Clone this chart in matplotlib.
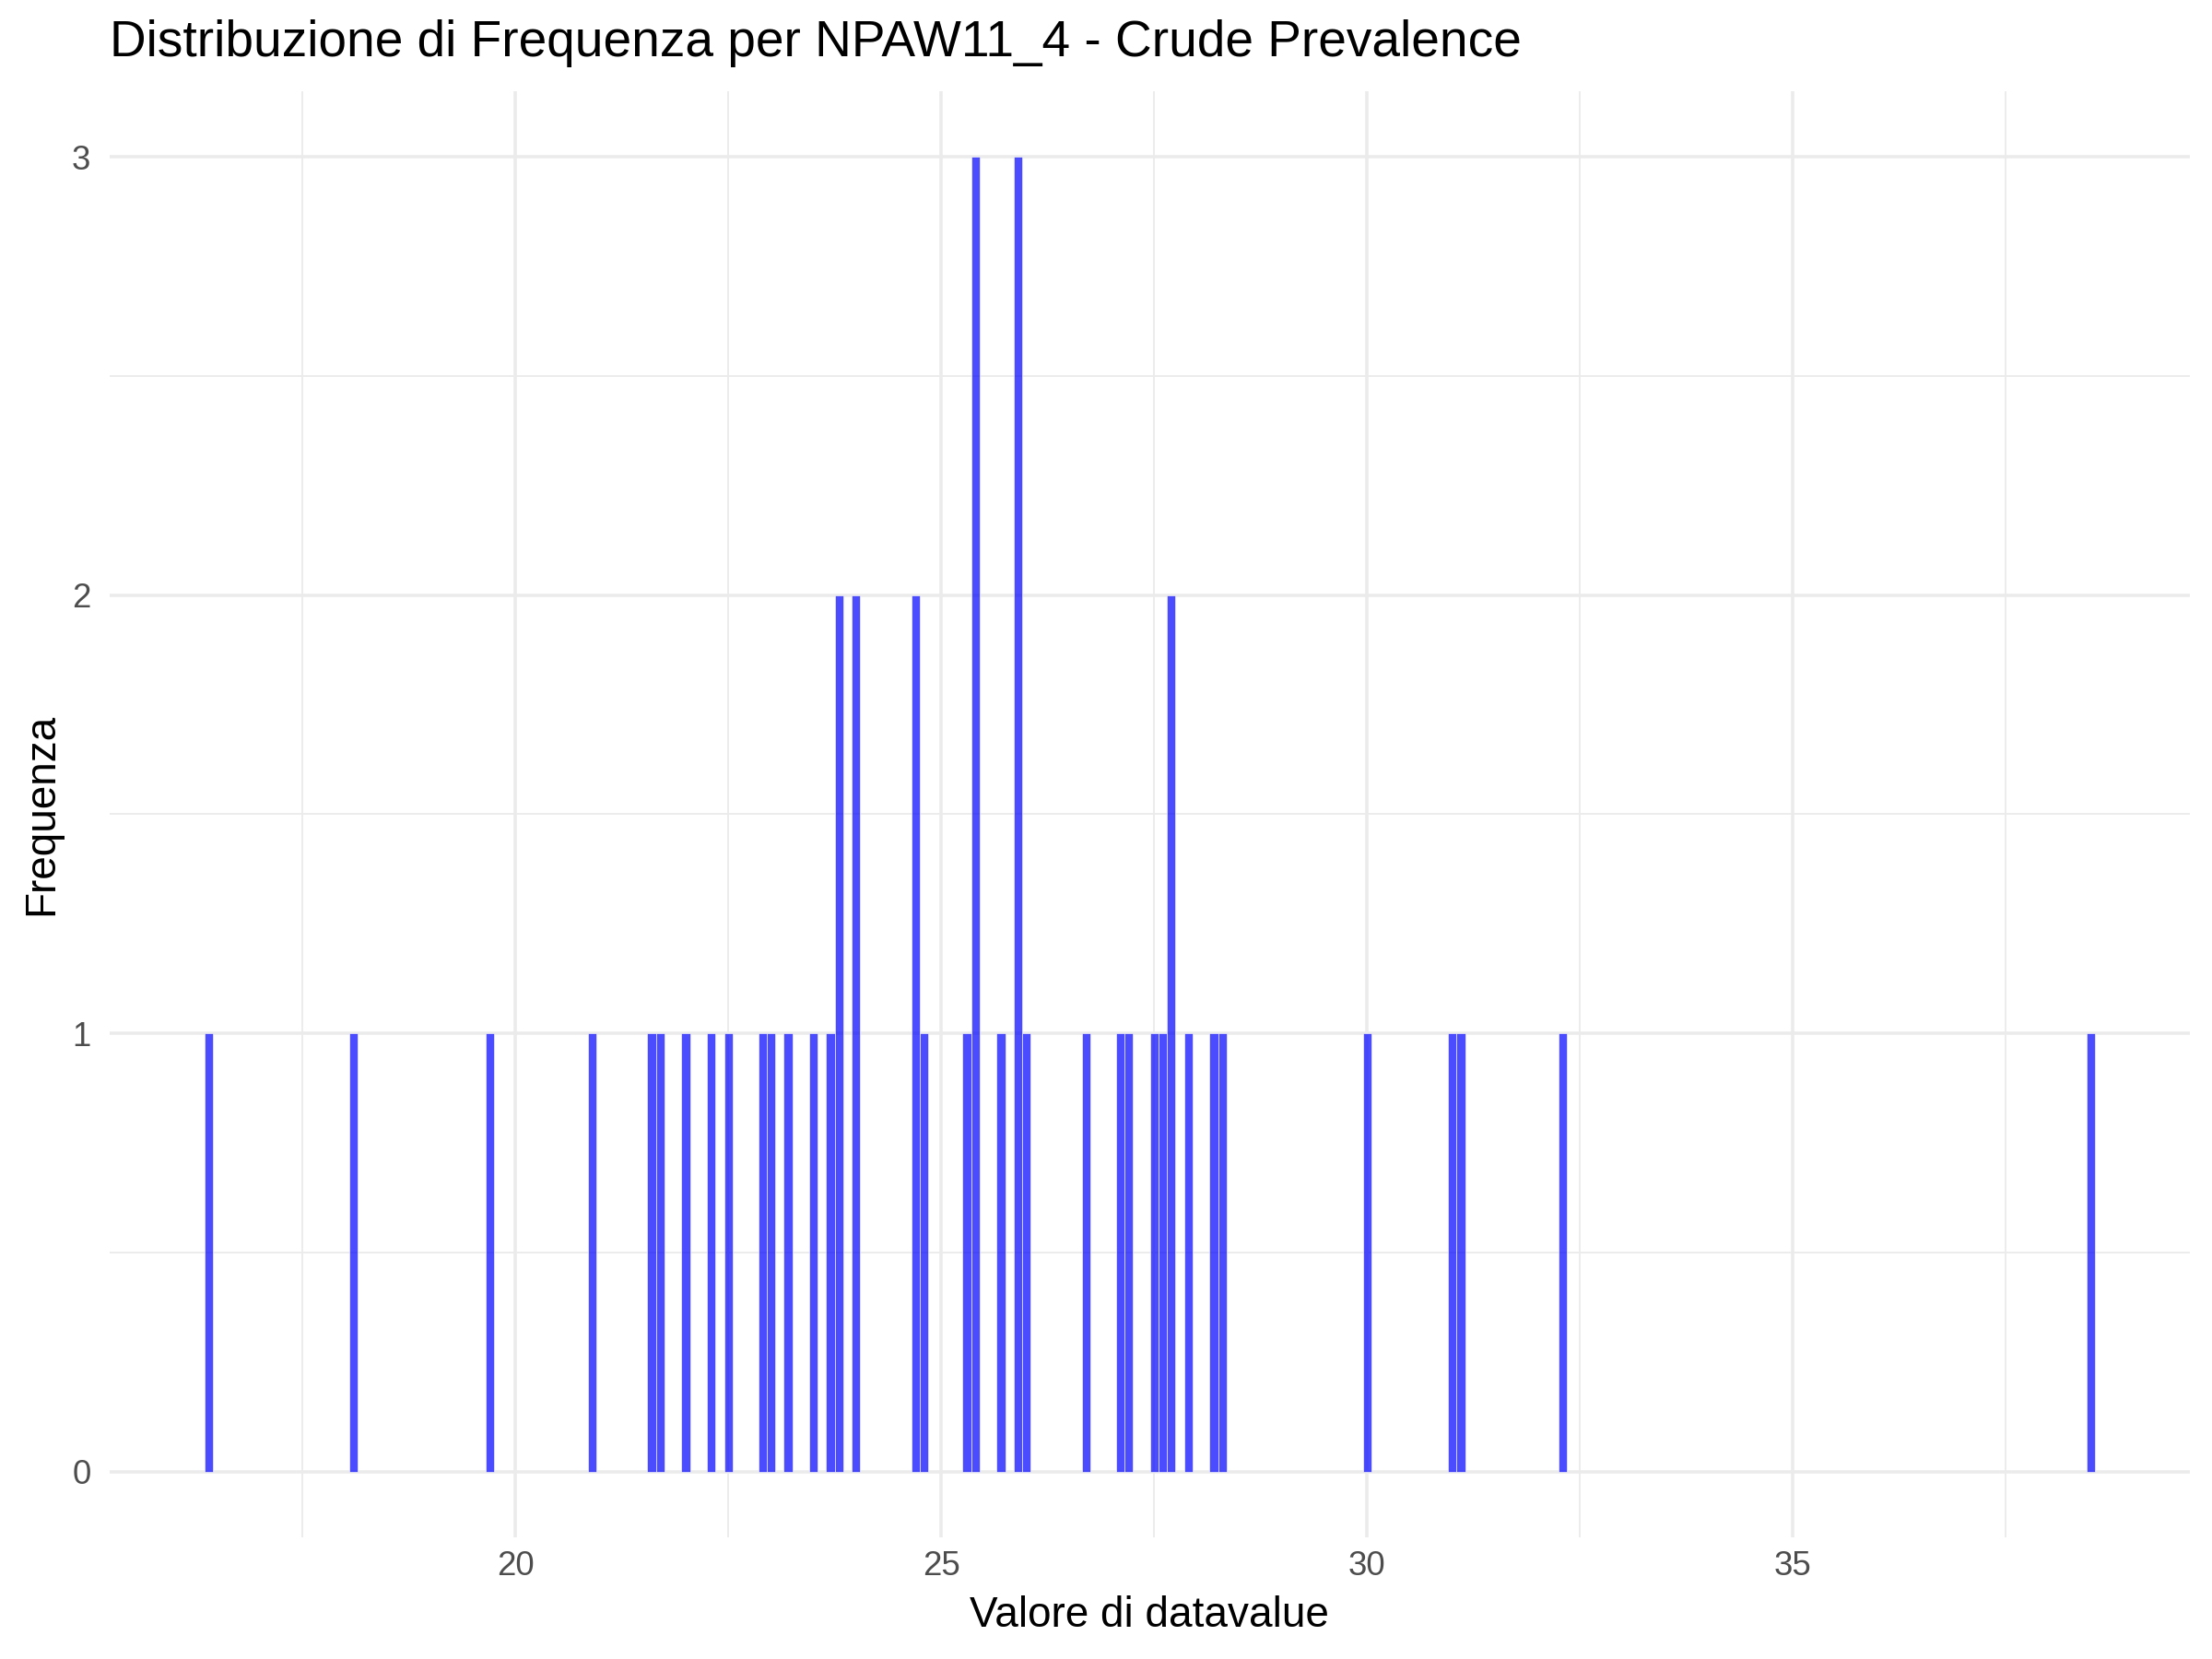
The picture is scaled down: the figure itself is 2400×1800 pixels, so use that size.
import numpy as np
import matplotlib.pyplot as plt
from matplotlib.ticker import MultipleLocator

# bin centres (binwidth 0.1) and counts
bin_centers = [16.4, 18.1, 19.7, 20.9, 21.6, 21.7, 22.0, 22.3, 22.5, 22.9,
               23.0, 23.2, 23.5, 23.7, 23.8, 24.0, 24.7, 24.8, 25.3, 25.4,
               25.7, 25.9, 26.0, 26.7, 27.1, 27.2, 27.5, 27.6, 27.7, 27.9,
               28.2, 28.3, 30.0, 31.0, 31.1, 32.3, 38.5]
counts = [1, 1, 1, 1, 1, 1, 1, 1, 1, 1,
          1, 1, 1, 1, 2, 2, 2, 1, 1, 3,
          1, 3, 1, 1, 1, 1, 1, 1, 2, 1,
          1, 1, 1, 1, 1, 1, 1]
binwidth = 0.1

title = "Distribuzione di Frequenza per NPAW11_4 - Crude Prevalence"
xlabel = "Valore di datavalue"
ylabel = "Frequenza"

plt.rcParams['font.family'] = ['Liberation Sans', 'DejaVu Sans']

fig = plt.figure(figsize=(8, 6), dpi=300)
ax = fig.add_axes([0.0497, 0.0733, 0.9403, 0.8718])

ax.bar(bin_centers, counts, width=binwidth, color='blue', alpha=0.7,
       edgecolor='white', linewidth=0.2, zorder=3)

# ggplot-style 5% expansion
lo = min(bin_centers) - binwidth / 2
hi = max(bin_centers) + binwidth / 2
pad = (hi - lo) * 0.05
ax.set_xlim(lo - pad, hi + pad)
ymax = max(counts)
ax.set_ylim(-0.05 * ymax, ymax * 1.05)

ax.xaxis.set_major_locator(MultipleLocator(5))
ax.xaxis.set_minor_locator(MultipleLocator(2.5))
ax.yaxis.set_major_locator(MultipleLocator(1))
ax.yaxis.set_minor_locator(MultipleLocator(0.5))

ax.grid(which='major', color='#EBEBEB', linewidth=0.85, zorder=0)
ax.grid(which='minor', color='#EBEBEB', linewidth=0.45, zorder=0)
ax.set_axisbelow(True)
for s in ax.spines.values():
    s.set_visible(False)
ax.tick_params(which='both', length=0)
ax.tick_params(axis='x', labelsize=8.8, labelcolor='#4D4D4D', pad=3.3)
ax.tick_params(axis='y', labelsize=8.8, labelcolor='#4D4D4D', pad=5)

fig.text(0.0497, 0.974, title, fontsize=13.2, ha='left', va='center')
fig.text(0.5197, 1 - 1753 / 1800, xlabel, fontsize=11, ha='center', va='center')
fig.text(0.019, 1 - 883 / 1800, ylabel, fontsize=11, ha='center', va='center',
         rotation=90)

fig.savefig('out.png', dpi=300, facecolor='white')
